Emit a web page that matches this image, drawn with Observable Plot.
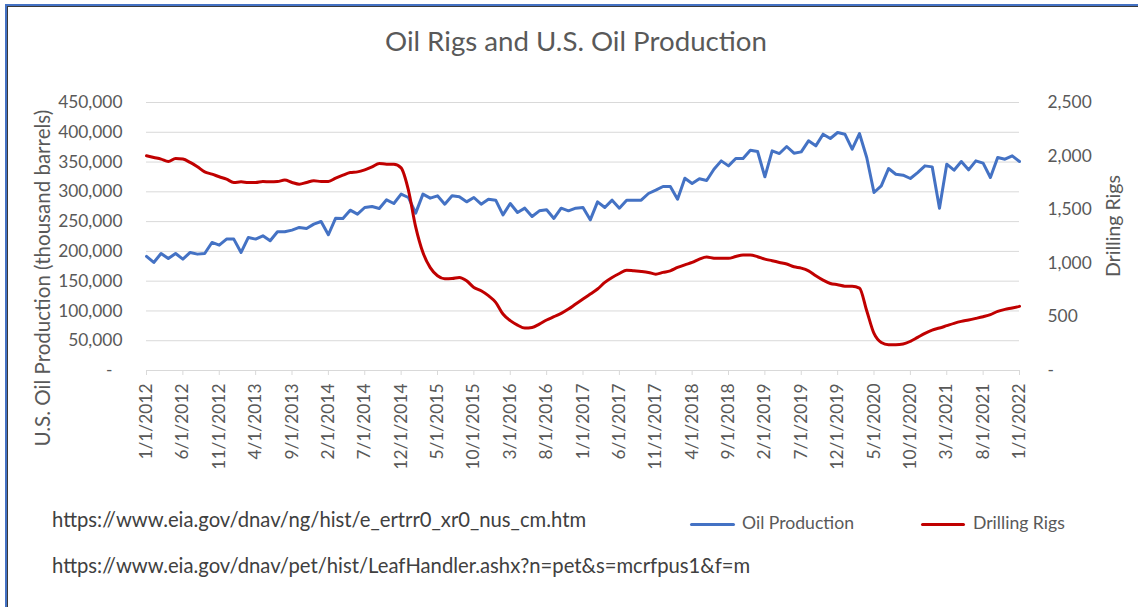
<!DOCTYPE html>
<html>
<head>
<meta charset="utf-8">
<script src="https://cdn.jsdelivr.net/npm/d3@7"></script>
<script src="https://cdn.jsdelivr.net/npm/@observablehq/plot@0.6"></script>
<style>
  html, body { margin: 0; padding: 0; background: #ffffff; }
  #wrap { position: relative; width: 1138px; height: 607px; overflow: hidden; background: #ffffff; font-family: Lato, "Open Sans", sans-serif; }
  .frameBlue { position: absolute; left: 5px; top: 4px; right: 0; bottom: 0; border-top: 2px solid #4472C4; border-left: 2px solid #4472C4; }
  .frameDark { position: absolute; left: 7px; top: 6px; right: 0; bottom: 0; border-top: 1px solid #3a3a3a; border-left: 1px solid #3a3a3a; }
  .txt { position: absolute; white-space: nowrap; line-height: 1; color: #595959; }
  .swatch { position: absolute; height: 3px; border-radius: 1.5px; }
  #chart svg { position: absolute; left: 0; top: 80px; }
</style>
</head>
<body>
<div id="wrap">
  <div class="frameBlue"></div>
  <div class="frameDark"></div>
  <div id="chart"></div>
</div>
<script>
// ---- Data ----
const startYear = 2012;
const monthCount = 121; // Jan 2012 .. Jan 2022
const monthLabels = d3.range(monthCount).map(i => `${(i % 12) + 1}/1/${startYear + Math.floor(i / 12)}`);

// U.S. field production of crude oil, thousand barrels per month
const oilProduction = [
  191500, 181400, 196500, 188100, 196500, 187000, 198200, 195400, 196500, 215000, 210500, 220600,
  220600, 198200, 223400, 220600, 226200, 217800, 232900, 232900, 235700, 240200, 238500, 245800,
  250200, 227900, 255800, 255300, 269200, 262500, 273700, 275400, 272100, 286600, 280400, 296100,
  290500, 264200, 296100, 289400, 293300, 279300, 293300, 291600, 283200, 290500, 279300, 287700,
  286000, 261400, 280400, 265300, 272600, 258600, 268100, 269800, 255300, 272600, 268100, 272600,
  273700, 253000, 283200, 273700, 286000, 272600, 286000, 286000, 286000, 297200, 302800, 309000,
  309000, 287700, 322900, 313900, 322000, 319000, 338000, 352000, 343600, 355900, 355900, 369900,
  367700, 325200, 368800, 364300, 376100, 364900, 367100, 385600, 377200, 396800, 389500, 399600,
  396800, 371600, 397900, 357600, 298900, 310100, 339100, 329600, 328000, 322400, 332400, 343600,
  341900, 272600, 346400, 336300, 350900, 336900, 352000, 348100, 324100, 357600, 354800, 360400,
  350900
];

// Crude oil and natural gas rotary rigs in operation
const drillingRigs = [
  2003, 1987, 1972, 1950, 1978, 1972, 1941, 1900, 1853, 1832, 1807, 1785,
  1754, 1760, 1754, 1754, 1763, 1760, 1763, 1776, 1754, 1738, 1754, 1770,
  1763, 1763, 1794, 1822, 1847, 1853, 1872, 1900, 1931, 1925, 1925, 1890,
  1683, 1340, 1100, 960, 884, 856, 858, 868, 837, 775, 744, 698,
  636, 527, 465, 424, 396, 402, 433, 471, 502, 533, 573, 620,
  666, 713, 760, 822, 868, 905, 936, 930, 924, 915, 899, 915,
  930, 961, 986, 1008, 1039, 1058, 1048, 1046, 1046, 1064, 1077, 1077,
  1061, 1039, 1024, 1008, 993, 968, 955, 930, 884, 843, 812, 800,
  787, 787, 769, 558, 346, 262, 241, 241, 247, 272, 309, 346,
  377, 396, 418, 440, 458, 471, 486, 502, 521, 552, 570, 583,
  598
];

const leftTicks = [0, 50000, 100000, 150000, 200000, 250000, 300000, 350000, 400000, 450000];
const rightTicks = [0, 500, 1000, 1500, 2000, 2500];
const xTickIndex = d3.range(0, monthCount, 5);

const titleText = "Oil Rigs and U.S. Oil Production";
const leftAxisTitle = "U.S. Oil Production (thousand barrels)";
const rightAxisTitle = "Drilling Rigs";
const seriesNames = ["Oil Production", "Drilling Rigs"];
const sourceUrls = [
  "https://www.eia.gov/dnav/ng/hist/e_ertrr0_xr0_nus_cm.htm",
  "https://www.eia.gov/dnav/pet/hist/LeafHandler.ashx?n=pet&s=mcrfpus1&f=m"
];

// ---- Layout helpers ----
const BLUE = "#4472C4", RED = "#C00000", GRID = "#D9D9D9", TXT = "#595959";
const ctx = document.createElement("canvas").getContext("2d");
function fit(text, target) {
  ctx.font = "100px Lato";
  return 100 * target / ctx.measureText(text).width;
}
const ASC = 0.887; // baseline offset for line-height:1 in Lato
const wrap = document.getElementById("wrap");
function addText(text, fs, x, baseline, align = "left", color = TXT) {
  const d = document.createElement("div");
  d.className = "txt";
  d.textContent = text;
  d.style.fontSize = fs + "px";
  d.style.color = color;
  wrap.appendChild(d);
  const w = d.offsetWidth;
  const left = align === "center" ? x - w / 2 : x;
  d.style.left = left + "px";
  d.style.top = (baseline - ASC * fs) + "px";
  return d;
}
function addVText(text, fs, baselineX, cy) {
  const d = document.createElement("div");
  d.className = "txt";
  d.textContent = text;
  d.style.fontSize = fs + "px";
  d.style.left = "0px";
  d.style.top = "0px";
  d.style.transformOrigin = "0 0";
  wrap.appendChild(d);
  const w = d.offsetWidth;
  d.style.transform = `translate(${baselineX - ASC * fs}px, ${cy + w / 2}px) rotate(-90deg)`;
  return d;
}

const tickFs = (fit("450,000", 65) + fit("1/1/2012", 74) + fit("2,500", 45)) / 3;

// ---- Chart ----
const k = 450000 / 2500; // rigs -> left-axis units
const table = d3.range(monthCount).map(i => ({i, oil: oilProduction[i], rigs: drillingRigs[i] * k}));
const fmt = d3.format(",");

const chart = Plot.plot({
  width: 1138,
  height: 400,
  marginTop: 22,
  marginBottom: 110,
  marginLeft: 146,
  marginRight: 119,
  x: {type: "linear", domain: [0, monthCount - 1]},
  y: {domain: [0, 450000]},
  style: {fontFamily: "Lato", fontSize: tickFs + "px", color: TXT, background: "transparent", overflow: "visible"},
  marks: [
    Plot.gridY(leftTicks.filter(d => d > 0), {stroke: GRID, strokeOpacity: 1, strokeWidth: 1}),
    Plot.ruleY([0], {stroke: GRID, strokeWidth: 1.2}),
    Plot.axisX({ticks: xTickIndex, tickFormat: i => monthLabels[i], tickRotate: -90, tickSize: 5,
                tickPadding: 8, stroke: GRID, fill: TXT, label: null}),
    Plot.axisY({ticks: leftTicks, tickFormat: d => d === 0 ? "-\u2007" : fmt(d), tickSize: 0,
                tickPadding: 24, fill: TXT, label: null}),
    Plot.axisY({anchor: "right", ticks: rightTicks.map(d => d * k), tickFormat: d => d === 0 ? "-" : fmt(Math.round(d / k)),
                tickSize: 0, tickPadding: 28, fill: TXT, label: null}),
    Plot.line(table, {x: "i", y: "oil", stroke: BLUE, strokeWidth: 3, strokeLinejoin: "round"}),
    Plot.line(table, {x: "i", y: "rigs", stroke: RED, strokeWidth: 3, curve: "monotone-x"})
  ]
});
document.getElementById("chart").appendChild(chart);

// ---- Titles, legend, sources ----
const titleFs = fit(titleText, 382);
addText(titleText, titleFs, 576, 52, "center");
addVText(leftAxisTitle, fit(leftAxisTitle, 337), 50, 278);
addVText(rightAxisTitle, fit(rightAxisTitle, 102), 1120, 226);

const legFs = (fit(seriesNames[0], 112) + fit(seriesNames[1], 92)) / 2;
const sw1 = document.createElement("div"); sw1.className = "swatch";
Object.assign(sw1.style, {left: "690px", width: "45px", top: "522.5px", background: BLUE});
wrap.appendChild(sw1);
addText(seriesNames[0], legFs, 742, 530);
const sw2 = document.createElement("div"); sw2.className = "swatch";
Object.assign(sw2.style, {left: "921px", width: "44px", top: "522.5px", background: RED});
wrap.appendChild(sw2);
addText(seriesNames[1], legFs, 973, 530);

const urlFs = (fit(sourceUrls[0], 546) + fit(sourceUrls[1], 683)) / 2;
addText(sourceUrls[0], urlFs, 52, 527, "left", "#404040");
addText(sourceUrls[1], urlFs, 52, 573, "left", "#404040");
</script>
</body>
</html>
